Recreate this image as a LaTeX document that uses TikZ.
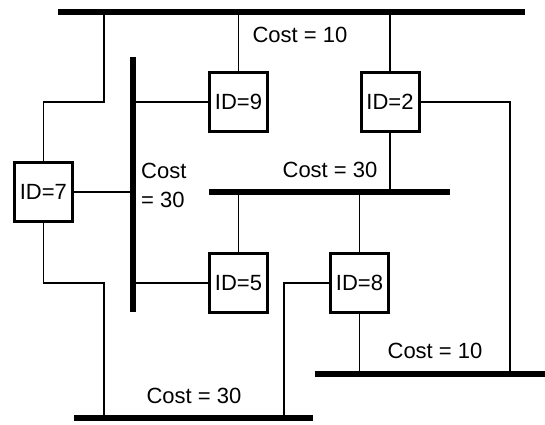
\documentclass[tikz,border=0pt]{standalone}
\usepackage{fontspec}
\setmainfont{Liberation Sans}
\begin{document}
\begin{tikzpicture}[x=1pt,y=-1pt,
  bus/.style={line width=6pt},
  link/.style={line width=1.2pt},
  idbox/.style={draw,line width=3pt,minimum width=58pt,minimum height=59pt,inner sep=0pt,fill=white,font=\fontsize{22}{26}\selectfont},
  cost/.style={inner sep=0pt,font=\fontsize{22}{29}\selectfont}]
\useasboundingbox (0,0) rectangle (545,424);
% bus end points
\coordinate (topL) at (58,12);   \coordinate (topR) at (525,12);
\coordinate (vT) at (133,57);    \coordinate (vB) at (133,312);
\coordinate (mL) at (209,192);   \coordinate (mR) at (450,192);
\coordinate (rL) at (315,374);   \coordinate (rR) at (545,374);
\coordinate (bL) at (74,418);    \coordinate (bR) at (313,418);
% bend points
\coordinate (k1) at (104,102);
\coordinate (k2) at (104,283);
\coordinate (k3) at (510,102);
\coordinate (k4) at (284,283);
% buses
\draw[bus] (topL) -- (topR);
\draw[bus] (vT) -- (vB);
\draw[bus] (mL) -- (mR);
\draw[bus] (rL) -- (rR);
\draw[bus] (bL) -- (bR);
% nodes
\node[idbox] (n9) at (238.5,102) {ID=9};
\node[idbox] (n2) at (390,102) {ID=2};
\node[idbox] (n7) at (43.3,192) {ID=7};
\node[idbox] (n5) at (238.5,283) {ID=5};
\node[idbox] (n8) at (359.5,283) {ID=8};
% links
\draw[link] (n7.north) |- (k1) -- (k1 |- topL);
\draw[link] (n7.south) |- (k2) -- (k2 |- bL);
\draw[link] (n7.east) -- (n7.east -| vT);
\draw[link] (n9.north) -- (n9.north |- topL);
\draw[link] (n9.west) -- (n9.west -| vT);
\draw[link] (n2.north) -- (n2.north |- topL);
\draw[link] (n2.south) -- (n2.south |- mL);
\draw[link] (n2.east) -- (k3) -- (k3 |- rL);
\draw[link] (n5.west) -- (n5.west -| vT);
\draw[link] (n5.north) -- (n5.north |- mL);
\draw[link] (n8.north) -- (n8.north |- mL);
\draw[link] (n8.south) -- (n8.south |- rL);
\draw[link] (n8.west) -- (k4) -- (k4 |- bL);
% cost labels
\node[cost] (c1) at (300,35) {Cost = 10};
\node[cost] (c2) at (330,170) {Cost = 30};
\node[cost,anchor=west,align=left] (c3) at (141,185) {Cost\\= 30};
\node[cost] (c4) at (435,351) {Cost = 10};
\node[cost] (c5) at (194,396) {Cost = 30};
\end{tikzpicture}
\end{document}
